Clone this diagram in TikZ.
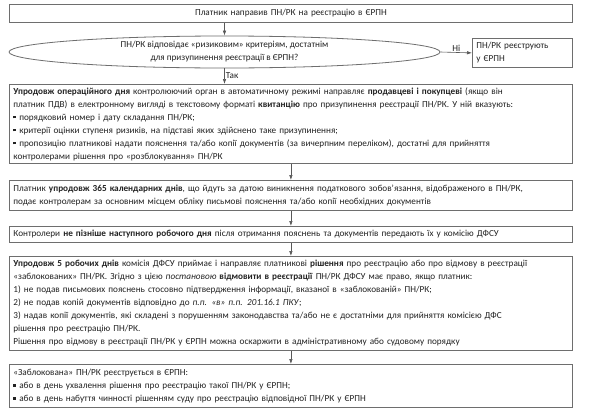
\documentclass[tikz,border=0pt]{standalone}
\usepackage{fontspec}
\setmainfont{Carlito}
\usetikzlibrary{arrows.meta,shapes.geometric}
\definecolor{bordc}{HTML}{6E6E6E}
\definecolor{txtc}{HTML}{222222}
\newcommand{\sqb}{\rule[1.6pt]{2.8pt}{2.8pt}}
\tikzset{
  box/.style={draw=bordc, line width=0.8pt, anchor=north west, text width=555pt, inner xsep=4pt, inner ysep=0pt, align=left, text=txtc, minimum width=563pt, font=\fontsize{9.2pt}{13pt}\selectfont},
  arr/.style={draw=bordc!80!black, line width=0.6pt, -{Latex[length=5pt,width=3.5pt]}},
  lbl/.style={text=txtc, font=\fontsize{9.2pt}{13pt}\selectfont, inner sep=1pt}
}
\begin{document}
\begin{tikzpicture}[x=1pt,y=-1pt]
\useasboundingbox[fill=white] (0,0) rectangle (600,410);
\node[box, align=center, minimum height=18pt] (b1) at (9,4) {Платник направив ПН/РК на реєстрацію в ЄРПН};
\node[draw=bordc, line width=0.8pt, ellipse, minimum width=431pt, minimum height=32pt, inner sep=0pt, align=center, text=txtc, font=\fontsize{9.2pt}{13pt}\selectfont] (el) at (224.5,52) {ПН/РК відповідає «ризиковим» критеріям, достатнім\\для призупинення реєстрації в ЄРПН?};
\node[box, text width=92pt, minimum width=100pt, minimum height=29pt] (rb) at (472,38) {ПН/РК реєструють\\у ЄРПН};
\node[box, minimum height=79pt] (b2) at (9,84) {\textbf{Упродовж операційного дня} контролюючий орган в автоматичному режимі направляє \textbf{продавцеві і покупцеві} (якщо він\\
платник ПДВ) в електронному вигляді в текстовому форматі \textbf{квитанцію} про призупинення реєстрації ПН/РК. У ній вказують:\\
\sqb{} порядковий номер і дату складання ПН/РК;\\
\sqb{} критерії оцінки ступеня ризиків, на підставі яких здійснено таке призупинення;\\
\sqb{} пропозицію платникові надати пояснення та/або копії документів (за вичерпним переліком), достатні для прийняття\\
контролерами рішення про «розблокування» ПН/РК};
\node[box, minimum height=30pt] (b3) at (9,180) {Платник \textbf{упродовж 365 календарних днів}, що йдуть за датою виникнення податкового зобов’язання, відображеного в ПН/РК,\\
подає контролерам за основним місцем обліку письмові пояснення та/або копії необхідних документів};
\node[box, minimum height=16pt] (b4) at (9,226) {Контролери \textbf{не пізніше наступного робочого дня} після отримання пояснень та документів передають їх у комісію ДФСУ};
\node[box, minimum height=94pt] (b5) at (9,256) {\textbf{Упродовж 5 робочих днів} комісія ДФСУ приймає і направляє платникові \textbf{рішення} про реєстрацію або про відмову в реєстрації\\
«заблокованих» ПН/РК. Згідно з цією \textit{постановою} \textbf{відмовити в реєстрації} ПН/РК ДФСУ має право, якщо платник:\\
1) не подав письмових пояснень стосовно підтвердження інформації, вказаної в «заблокованій» ПН/РК;\\
2) не подав копій документів відповідно до \textit{п.п. «в» п.п. 201.16.1 ПКУ};\\
3) надав копії документів, які складені з порушенням законодавства та/або не є достатніми для прийняття комісією ДФС\\
рішення про реєстрацію ПН/РК.\\
Рішення про відмову в реєстрації ПН/РК у ЄРПН можна оскаржити в адміністративному або судовому порядку};
\node[box, minimum height=43pt] (b6) at (9,364) {«Заблокована» ПН/РК реєструється в ЄРПН:\\
\sqb{} або в день ухвалення рішення про реєстрацію такої ПН/РК у ЄРПН;\\
\sqb{} або в день набуття чинності рішенням суду про реєстрацію відповідної ПН/РК у ЄРПН};
\draw[arr] (el.north |- b1.south) -- (el.north);
\draw[arr] (el.east) -- node[lbl, above] {Ні} (rb.west);
\draw[arr] (el.south) -- node[lbl, right, pos=0.45] {Так} (el.south |- b2.north);
\draw[arr] (b2.south) -- (b3.north);
\draw[arr] (b3.south) -- (b4.north);
\draw[arr] (b4.south) -- (b5.north);
\draw[arr] (b5.south) -- (b6.north);
\end{tikzpicture}
\end{document}
